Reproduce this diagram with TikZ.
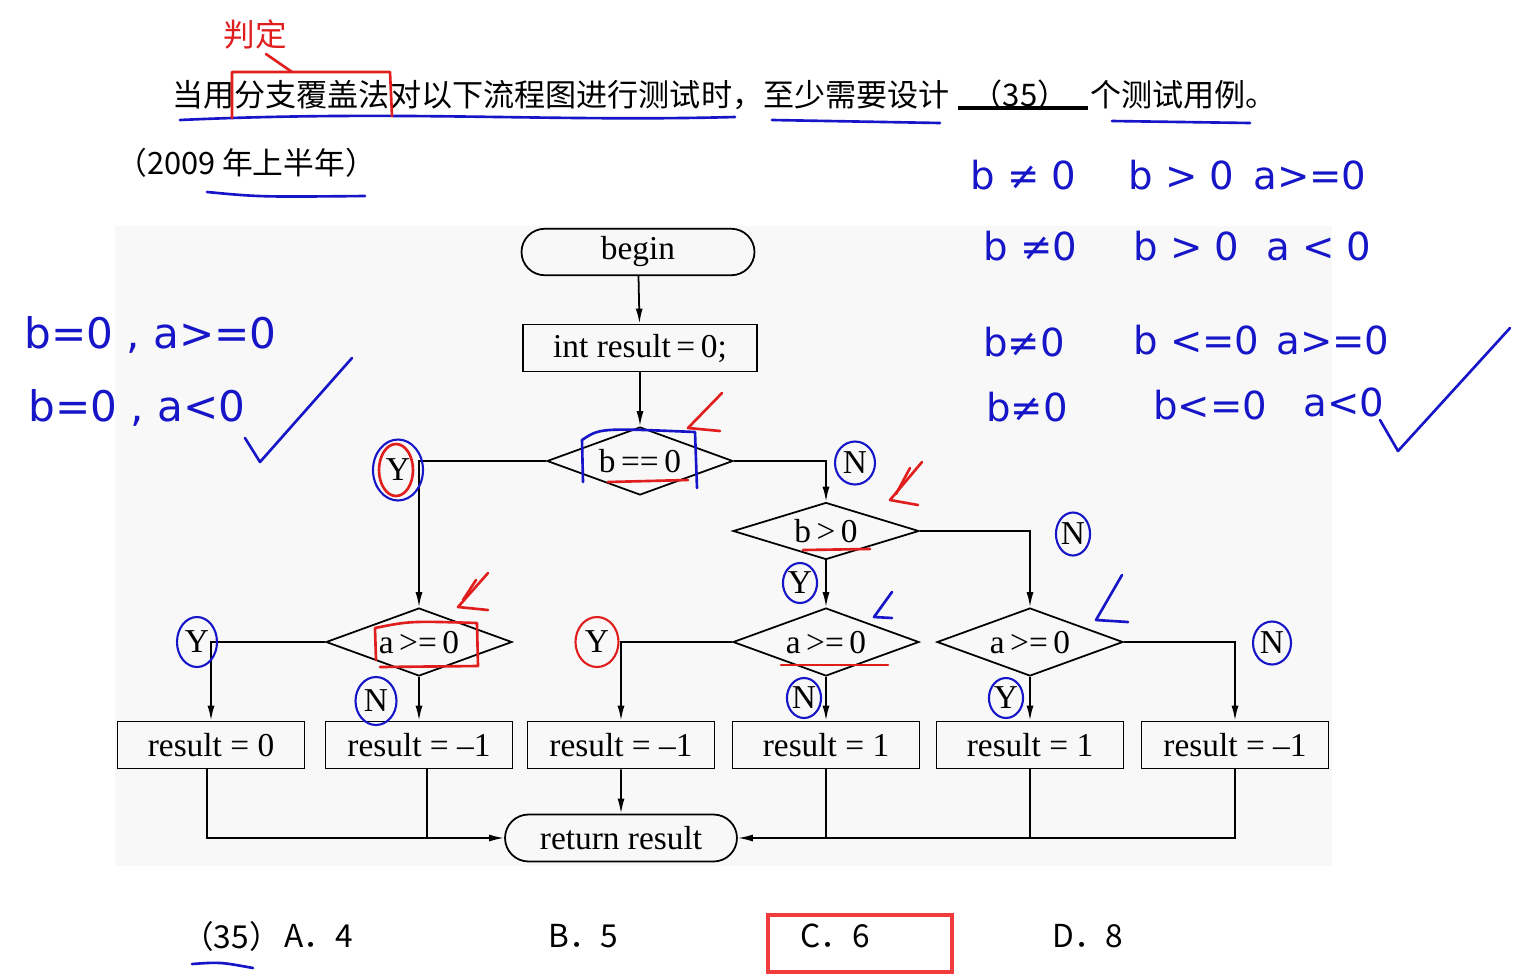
\documentclass[tikz,border=0pt]{standalone}
\usepackage{fontspec}
\setmainfont{Liberation Serif}
\newfontfamily\cjk{Noto Sans CJK SC}
\newfontfamily\hand{DejaVu Sans}
\usepackage{tikz}
\usetikzlibrary{shapes.geometric, shapes.misc, arrows.meta, positioning}
\definecolor{handblue}{RGB}{22,22,200}
\definecolor{handred}{RGB}{225,30,30}
\definecolor{boxred}{RGB}{240,60,60}
\definecolor{paper}{RGB}{248,248,248}
\tikzset{
  process/.style={rectangle, draw=black, line width=1pt,
    minimum width=3.74cm, minimum height=0.94cm, inner sep=0pt,
    font=\fontsize{19}{19}\selectfont},
  terminal/.style={rounded rectangle, draw=black, line width=1pt,
    minimum width=4.66cm, minimum height=0.93cm, inner sep=0pt,
    font=\fontsize{19}{19}\selectfont},
  decision/.style={diamond, draw=black, line width=1pt, aspect=2.7,
    text width=1.8cm, text height=0.44cm, text depth=0cm, align=center,
    minimum width=3.72cm, minimum height=1.36cm, inner sep=0pt,
    font=\fontsize{19}{19}\selectfont},
  yn/.style={ellipse, inner sep=0pt, minimum width=0.82cm,
    minimum height=1.0cm, line width=1.2pt,
    font=\fontsize{19}{19}\selectfont},
  flow/.style={-{Latex[length=3mm,width=1.4mm]}, line width=1pt},
  line/.style={line width=1pt},
  handtext/.style={anchor=west, inner sep=0pt, text=handblue,
    font=\hand\fontsize{22}{22}\selectfont},
  bluepen/.style={draw=handblue, line width=1.5pt, line cap=round, line join=round},
  redpen/.style={draw=handred, line width=1.5pt, line cap=round, line join=round}
}

\begin{document}
\begin{tikzpicture}[x=0.02cm, y=-0.02cm]
  \useasboundingbox (0,0) rectangle (1518,978);
  \fill[white] (0,0) rectangle (1518,978);
  \fill[paper] (115,226) rectangle (1332,866);

  % Question text
  \node[anchor=west, inner sep=0pt, font=\cjk\fontsize{17.7}{17.7}\selectfont] (q1) at (172,95)
    {当用分支覆盖法对以下流程图进行测试时，至少需要设计};
  \node[inner sep=0pt, font=\cjk\fontsize{17.7}{17.7}\selectfont] (blank) at (1020,95) {（35）};
  \node[anchor=west, inner sep=0pt, font=\cjk\fontsize{17.7}{17.7}\selectfont] (q2) at (1090,95)
    {个测试用例。};
  \draw[line width=2pt] (958,108) -- (1088,108);
  \node[anchor=west, inner sep=0pt, font=\cjk\fontsize{17.5}{17.5}\selectfont] (year) at (116,163)
    {（2009 年上半年）};

  % Flowchart
  \node[terminal] (begin) at (638,252) {begin};
  \node[process, minimum width=4.68cm] (init) at (640,348) {int result\,=\,0;};
  \node[decision] (bzero) at (640,461) {b\,==\,0};
  \node[decision, minimum height=1.14cm] (bpos) at (826,531) {b\,>\,0};
  \node[decision] (aleft) at (419,642) {a\,>=\,0};
  \node[decision] (amid) at (826,642) {a\,>=\,0};
  \node[decision] (aright) at (1030,642) {a\,>=\,0};
  \node[process] (rzero) at (211,745) {result = 0};
  \node[process] (rnegA) at (419,745) {result = \textendash1};
  \node[process] (rnegB) at (621,745) {result = \textendash1};
  \node[process] (roneA) at (826,745) {result = 1};
  \node[process] (roneB) at (1030,745) {result = 1};
  \node[process] (rnegC) at (1235,745) {result = \textendash1};
  \node[terminal, minimum width=4.64cm, minimum height=0.94cm] (ret) at (621,838) {return result};

  \draw[flow] (begin) -- (init);
  \draw[flow] (init) -- (bzero);
  \draw[flow] (bzero.west) -| (aleft.north);
  \draw[flow] (bzero.east) -| (bpos.north);
  \draw[flow] (bpos.east) -| (aright.north);
  \draw[flow] (bpos) -- (amid);
  \draw[flow] (aleft.west) -| (rzero.north);
  \draw[flow] (aleft) -- (rnegA);
  \draw[flow] (amid.west) -| (rnegB.north);
  \draw[flow] (amid) -- (roneA);
  \draw[flow] (aright) -- (roneB);
  \draw[flow] (aright.east) -| (rnegC.north);
  \draw[flow] (rnegB) -- (ret);
  \draw[flow] ([xshift=-0.08cm]rzero.south) |- (ret.west);
  \draw[line] ([xshift=0.16cm]rnegA.south) -- ([xshift=0.16cm]rnegA.south |- ret.west);
  \draw[flow] (rnegC.south) |- (ret.east);
  \draw[line] (roneA.south) -- (roneA.south |- ret.east);
  \draw[line] (roneB.south) -- (roneB.south |- ret.east);

  % Branch labels
  \node[yn, draw=handblue, minimum width=1.0cm, minimum height=1.22cm] (yA) at (398,470) {Y};
  \node[yn, draw=handblue, minimum width=0.8cm, minimum height=0.86cm] (nB) at (855,463) {N};
  \node[yn, draw=handblue, minimum width=0.66cm, minimum height=0.86cm] (nC) at (1073,534) {N};
  \node[yn, draw=handblue, minimum width=0.64cm, minimum height=0.8cm] (yD) at (800,583) {Y};
  \node[yn, draw=handblue, minimum width=0.8cm] (yE) at (197,642) {Y};
  \node[yn, draw=handblue, minimum width=0.82cm, minimum height=0.96cm] (nF) at (376,701) {N};
  \node[yn, draw=handred, minimum width=0.86cm, minimum height=1.0cm] (yG) at (597,642) {Y};
  \node[yn, draw=handblue, minimum width=0.64cm, minimum height=0.8cm] (nH) at (804,698) {N};
  \node[yn, draw=handblue, minimum width=0.66cm, minimum height=0.8cm] (yI) at (1006,698) {Y};
  \node[yn, draw=handblue, minimum width=0.76cm, minimum height=0.86cm] (nJ) at (1272,643) {N};
  \draw[redpen] ([xshift=-0.04cm]yA.center) ellipse [x radius=0.34cm, y radius=0.52cm];

  % Answer options
  \node[anchor=west, inner sep=0pt, font=\cjk\fontsize{18}{18}\selectfont] (optnum) at (182,936) {（35）};
  \node[anchor=west, inner sep=0pt, font=\cjk\fontsize{18}{18}\selectfont] (optA) at (284,936) {A．4};
  \node[anchor=west, inner sep=0pt, font=\cjk\fontsize{18}{18}\selectfont] (optB) at (548,936) {B．5};
  \node[anchor=west, inner sep=0pt, font=\cjk\fontsize{18}{18}\selectfont] (optC) at (800,936) {C．6};
  \node[anchor=west, inner sep=0pt, font=\cjk\fontsize{18}{18}\selectfont] (optD) at (1052,936) {D．8};
  \draw[boxred, line width=2pt] (768,915) rectangle (952,972);

  % Handwritten notes
  \node[handtext] (c1b) at (970,175) {b ≠ 0};
  \node[handtext] (c1p) at (1128,175) {b > 0};
  \node[handtext] (c1a) at (1253,175) {a>=0};
  \node[handtext] (c2b) at (983,246) {b ≠0};
  \node[handtext] (c2p) at (1133,246) {b > 0};
  \node[handtext] (c2a) at (1266,246) {a < 0};
  \node[handtext] (c3b) at (983,342) {b≠0};
  \node[handtext] (c3p) at (1133,340) {b <=0};
  \node[handtext] (c3a) at (1276,340) {a>=0};
  \node[handtext] (c4b) at (986,407) {b≠0};
  \node[handtext] (c4p) at (1153,405) {b<=0};
  \node[handtext] (c4a) at (1303,402) {a<0};
  \node[handtext, font=\hand\fontsize{24}{24}\selectfont] (l1) at (24,335) {b=0 , a>=0};
  \node[handtext, font=\hand\fontsize{24}{24}\selectfont] (l2) at (28,408) {b=0 , a<0};
  \node[inner sep=0pt, text=handred, font=\cjk\fontsize{18}{18}\selectfont] (judge) at (255,34) {判定};

  % Pen marks
  \draw[bluepen] (180,120) .. controls (400,110) and (550,122) .. (735,117);
  \draw[bluepen] (772,120) -- (940,123);
  \draw[bluepen] (1112,121) -- (1250,123);
  \draw[bluepen] (207,192) .. controls (260,197) .. (365,196);
  \draw[bluepen] (192,964) .. controls (220,962) .. (253,968);
  \draw[bluepen] (245,438) -- (260,462) -- (352,358);
  \draw[bluepen] (1380,420) -- (1398,451) -- (1510,328);
  \draw[bluepen] (583,482) -- (582,440) .. controls (600,428) .. (695,432) -- (697,488);
  \draw[bluepen] (892,592) -- (874,617) -- (892,618);
  \draw[bluepen] (1122,575) -- (1096,620) -- (1128,622);
  \draw[redpen] (232,118) -- (232,72) -- (390,72) -- (392,116);
  \draw[redpen] (266,54) -- (292,72);
  \draw[redpen] (722,393) -- (688,428) -- (720,431);
  \draw[redpen] (922,462) -- (890,500) -- (918,505);
  \draw[redpen] (910,468) -- (896,494);
  \draw[redpen] (488,573) -- (458,607) -- (488,610);
  \draw[redpen] (476,580) -- (463,600);
  \draw[redpen] (608,482) -- (688,480);
  \draw[redpen] (803,550) -- (870,549);
  \draw[redpen] (781,665) -- (888,665);
  \draw[redpen] (376,660) -- (375,628) .. controls (410,621) .. (477,623) -- (478,666) -- (380,667);
\end{tikzpicture}
\end{document}
